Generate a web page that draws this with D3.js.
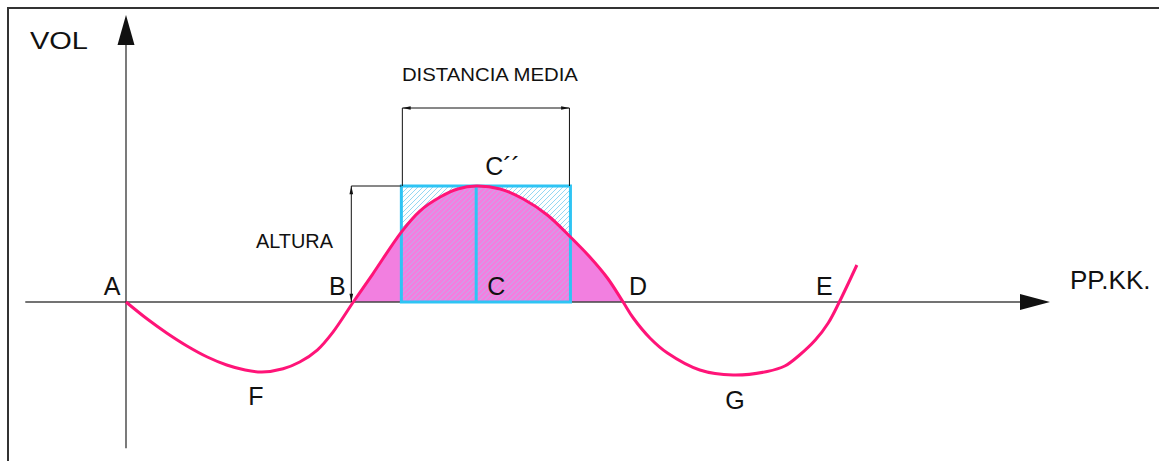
<!DOCTYPE html>
<html>
<head>
<meta charset="utf-8">
<script src="https://cdn.jsdelivr.net/npm/d3@7"></script>
<style>
  html, body { margin: 0; padding: 0; background: #fff; }
  svg { display: block; font-family: "Liberation Sans", Arial, sans-serif; }
</style>
</head>
<body>
<svg id="chart" width="1159" height="461"></svg>
<script>
// perfil de volúmenes (x = distancia, y = volumen)
const curveX = [0, 2.3, 4.4, 6.6, 8.8, 10.9, 12.9, 14.7, 17.0, 18.8, 20.7, 22.4, 24.6,
                26.7, 29.8, 31.8, 34.0, 35.9, 37.9, 40.5, 43.0, 45.6, 48.1, 50.2, 52.1, 53.8,
                54.9, 56.7, 58.6, 62.1, 65.7, 69.4, 71.3, 72.9, 74.6, 76.0, 77.2, 79.1];
const curveY = [0, -14.7, -26.7, -37.9, -47.4, -54.3, -58.6, -60.3, -57.5, -51.7, -41.4, -25.9, 0,
                24.1, 60.3, 78.4, 90.5, 97.4, 100, 97.4, 88.8, 75.0, 56.0, 38.8, 20.7, 0,
                -13.8, -31.0, -44.0, -58.6, -62.9, -59.9, -55.2, -45.7, -32.8, -18.1, 0, 31.9];

// puntos característicos
const pointNames = ['A', 'B', 'C', 'D', 'E', 'F', 'G', 'C´´'];
const pointX = [0, 24.6, 37.9, 53.8, 77.2, 14.7, 65.7, 37.9];
const pointY = [0, 0, 0, 0, 0, -60.3, -62.9, 100];

// rectángulo equivalente
const rectX = [29.8, 48.1];
const rectH = 100;
const midX = 37.9;

// extensión de los ejes
const xAxisExtent = [-10.9, 100];
const yAxisExtent = [-126, 247.4];
const axisNames = ['VOL', 'PP.KK.'];
const dimNames = ['DISTANCIA MEDIA', 'ALTURA'];

const svg = d3.select('#chart');
const x = d3.scaleLinear().domain([0, 100]).range([126, 1050]);
const y = d3.scaleLinear().domain([-100, 100]).range([418, 186]);

const pts = curveX.map((v, i) => ({x: v, y: curveY[i]}));
const lbl = pointNames.map((n, i) => ({name: n, x: pointX[i], y: pointY[i]}));

const ink = '#111';
const pink = '#ff1478';
const cyan = '#2ec4f4';

// marco
svg.append('rect')
    .attr('x', 8).attr('y', 8)
    .attr('width', 1200).attr('height', 500)
    .attr('fill', 'none').attr('stroke', '#333').attr('stroke-width', 2);

const defs = svg.append('defs');
defs.append('pattern')
    .attr('id', 'hatch')
    .attr('patternUnits', 'userSpaceOnUse')
    .attr('width', 5).attr('height', 5)
    .append('path')
    .attr('d', 'M-1,6 L6,-1 M-1,1 L1,-1 M4,6 L6,4')
    .attr('stroke', '#8fd6f2').attr('stroke-width', 0.9);

defs.append('clipPath').attr('id', 'clipBD')
    .append('rect')
    .attr('x', x(pointX[1])).attr('y', 0)
    .attr('width', x(pointX[3]) - x(pointX[1]))
    .attr('height', y(0));

const arrowMark = defs.append('marker')
    .attr('id', 'dimArrow')
    .attr('viewBox', '0 -3 10 6')
    .attr('refX', 10).attr('refY', 0)
    .attr('markerWidth', 9).attr('markerHeight', 5)
    .attr('markerUnits', 'userSpaceOnUse')
    .attr('orient', 'auto-start-reverse');
arrowMark.append('path').attr('d', 'M0,-2.2L10,0L0,2.2Z').attr('fill', ink);

const line = d3.line().x(d => x(d.x)).y(d => y(d.y)).curve(d3.curveCatmullRom.alpha(0.5));
const area = d3.area().x(d => x(d.x)).y0(y(0)).y1(d => y(d.y)).curve(d3.curveCatmullRom.alpha(0.5));

// zona rayada del rectángulo
svg.append('rect')
    .attr('x', x(rectX[0])).attr('y', y(rectH))
    .attr('width', x(rectX[1]) - x(rectX[0]))
    .attr('height', y(0) - y(rectH))
    .attr('fill', 'url(#hatch)');

// área bajo la curva entre B y D
svg.append('path')
    .attr('d', area(pts))
    .attr('clip-path', 'url(#clipBD)')
    .attr('fill', '#f27fe0');

svg.append('rect')
    .attr('x', x(rectX[0])).attr('y', y(rectH))
    .attr('width', x(rectX[1]) - x(rectX[0]))
    .attr('height', y(0) - y(rectH))
    .attr('fill', 'url(#hatch)')
    .attr('opacity', 0.55);

// ejes
svg.append('line')
    .attr('x1', x(xAxisExtent[0])).attr('x2', x(xAxisExtent[1]) - 20)
    .attr('y1', y(0)).attr('y2', y(0))
    .attr('stroke', '#444').attr('stroke-width', 1.6);
svg.append('line')
    .attr('x1', x(0)).attr('x2', x(0))
    .attr('y1', y(yAxisExtent[0])).attr('y2', y(yAxisExtent[1]) + 20)
    .attr('stroke', '#222').attr('stroke-width', 1.2);

const xt = x(xAxisExtent[1]), yt = y(yAxisExtent[1]);
svg.append('path')
    .attr('d', `M${xt},${y(0)} L${xt - 30},${y(0) - 8} L${xt - 30},${y(0) + 8} Z`)
    .attr('fill', ink);
svg.append('path')
    .attr('d', `M${x(0)},${yt} L${x(0) - 8.5},${yt + 30} L${x(0) + 8.5},${yt + 30} Z`)
    .attr('fill', ink);

// rectángulo equivalente
svg.append('rect')
    .attr('x', x(rectX[0])).attr('y', y(rectH))
    .attr('width', x(rectX[1]) - x(rectX[0]))
    .attr('height', y(0) - y(rectH))
    .attr('fill', 'none').attr('stroke', cyan).attr('stroke-width', 3);
svg.append('line')
    .attr('x1', x(midX)).attr('x2', x(midX))
    .attr('y1', y(rectH)).attr('y2', y(0))
    .attr('stroke', cyan).attr('stroke-width', 3);

// curva
svg.append('path')
    .attr('d', line(pts))
    .attr('fill', 'none').attr('stroke', pink).attr('stroke-width', 3);

// cota de distancia media
const dimY = 108;
svg.append('line')
    .attr('x1', x(rectX[0]) + 1).attr('x2', x(rectX[1]) - 1)
    .attr('y1', dimY).attr('y2', dimY)
    .attr('stroke', ink).attr('stroke-width', 1)
    .attr('marker-start', 'url(#dimArrow)').attr('marker-end', 'url(#dimArrow)');
rectX.forEach((v, i) => {
    svg.append('line')
        .attr('x1', x(v) + (i ? -1 : 1)).attr('x2', x(v) + (i ? -1 : 1))
        .attr('y1', dimY).attr('y2', y(rectH))
        .attr('stroke', ink).attr('stroke-width', 1);
});

// cota de altura
const hX = x(pointX[1]) - 2;
svg.append('line')
    .attr('x1', hX).attr('x2', hX)
    .attr('y1', y(rectH)).attr('y2', y(0))
    .attr('stroke', ink).attr('stroke-width', 1)
    .attr('marker-start', 'url(#dimArrow)').attr('marker-end', 'url(#dimArrow)');
svg.append('line')
    .attr('x1', hX).attr('x2', x(rectX[0]))
    .attr('y1', y(rectH)).attr('y2', y(rectH))
    .attr('stroke', ink).attr('stroke-width', 1);

// textos
const letterPos = {
    'A': [-14, -7], 'B': [-16, -7], 'C': [20, -7], 'D': [15, -7], 'E': [-15, -7],
    'F': [-6, 33], 'G': [2, 34], 'C´´': [9, -11]
};
svg.selectAll('.pt').data(lbl).enter().append('text')
    .attr('class', 'pt')
    .attr('x', d => x(d.x) + letterPos[d.name][0])
    .attr('y', d => y(d.y) + letterPos[d.name][1])
    .attr('text-anchor', d => d.name === 'C´´' ? 'start' : 'middle')
    .attr('font-size', 25)
    .attr('fill', ink)
    .text(d => d.name);

svg.append('text')
    .attr('x', 30).attr('y', 49)
    .attr('font-size', 24).attr('fill', ink)
    .attr('textLength', 58).attr('lengthAdjust', 'spacingAndGlyphs')
    .text(axisNames[0]);
svg.append('text')
    .attr('x', 1070).attr('y', 289)
    .attr('font-size', 26).attr('fill', ink)
    .text(axisNames[1]);

svg.append('text')
    .attr('x', (x(rectX[0]) + x(rectX[1])) / 2 + 4).attr('y', 81)
    .attr('text-anchor', 'middle')
    .attr('font-size', 18).attr('fill', ink)
    .attr('textLength', 176).attr('lengthAdjust', 'spacingAndGlyphs')
    .text(dimNames[0]);
svg.append('text')
    .attr('x', 256).attr('y', 248)
    .attr('font-size', 19.5).attr('fill', ink)
    .attr('textLength', 77).attr('lengthAdjust', 'spacingAndGlyphs')
    .text(dimNames[1]);
</script>
</body>
</html>
